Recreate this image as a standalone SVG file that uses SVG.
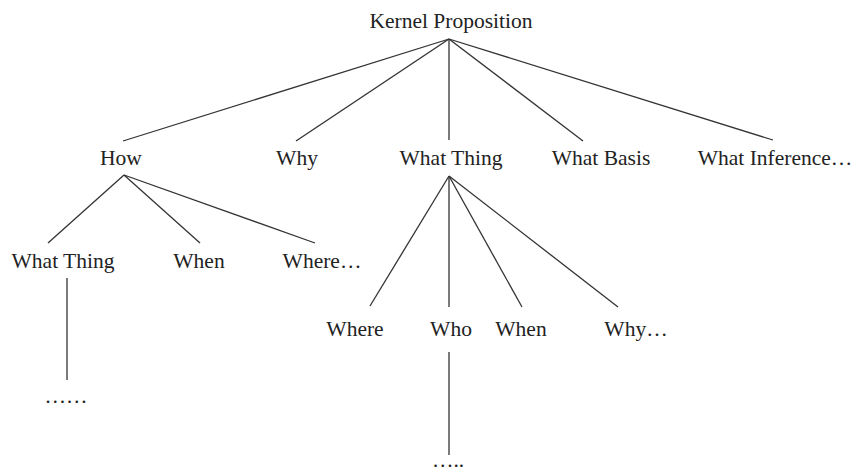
<svg xmlns="http://www.w3.org/2000/svg" width="857" height="473" viewBox="0 0 857 473">
<style>
.t{font-family:"Liberation Serif","Times New Roman",serif;font-size:21.5px;fill:#222;text-anchor:middle}
.c line{stroke:#333;stroke-width:1.3;fill:none}
</style>
<rect width="857" height="473" fill="#fff"/>
<g id="connectors" class="c">
<line x1="449" y1="39" x2="123" y2="141"/>
<line x1="449" y1="39" x2="296" y2="141"/>
<line x1="449" y1="39" x2="449" y2="140"/>
<line x1="449" y1="39" x2="583" y2="141"/>
<line x1="449" y1="39" x2="773" y2="140"/>
<line x1="124" y1="175" x2="48" y2="243"/>
<line x1="124" y1="175" x2="200" y2="243"/>
<line x1="124" y1="175" x2="315" y2="243"/>
<line x1="67" y1="278" x2="67" y2="380"/>
<line x1="449" y1="176" x2="370" y2="306"/>
<line x1="449" y1="176" x2="449" y2="307"/>
<line x1="449" y1="176" x2="522" y2="307"/>
<line x1="449" y1="176" x2="618" y2="307"/>
<line x1="449" y1="352" x2="449" y2="455"/>
</g>
<g id="kernel"><text class="t" x="451" y="28">Kernel Proposition</text></g>
<g id="how"><text class="t" x="121" y="165">How</text></g>
<g id="why"><text class="t" x="297" y="165">Why</text></g>
<g id="whatthing"><text class="t" x="451" y="165">What Thing</text></g>
<g id="whatbasis"><text class="t" x="601" y="165">What Basis</text></g>
<g id="whatinference"><text class="t" x="775" y="165">What Inference…</text></g>
<g id="how-whatthing"><text class="t" x="63" y="268">What Thing</text></g>
<g id="how-when"><text class="t" x="199" y="268">When</text></g>
<g id="how-where"><text class="t" x="322" y="268">Where…</text></g>
<g id="how-more"><text class="t" x="66" y="403">……</text></g>
<g id="wt-where"><text class="t" x="355" y="336">Where</text></g>
<g id="wt-who"><text class="t" x="451" y="336">Who</text></g>
<g id="wt-when"><text class="t" x="521" y="336">When</text></g>
<g id="wt-why"><text class="t" x="636" y="336">Why…</text></g>
<g id="who-more"><text class="t" x="448" y="467">…..</text></g>
</svg>
